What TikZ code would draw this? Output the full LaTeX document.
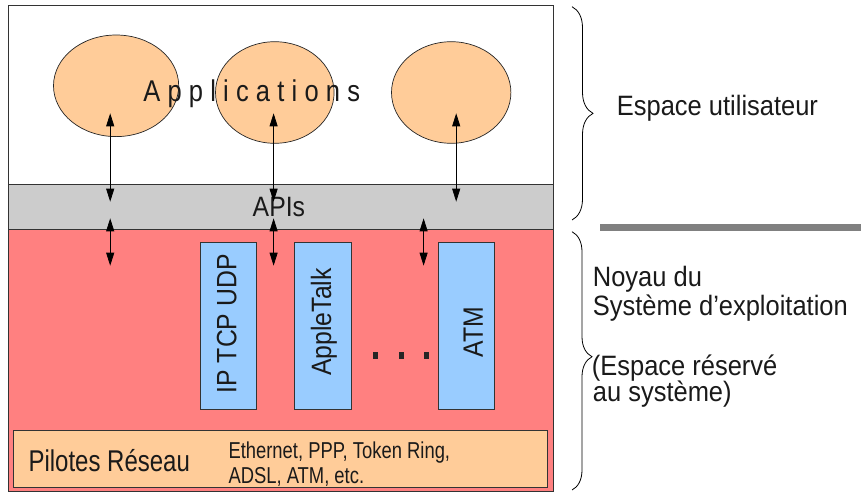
\documentclass[tikz,border=0pt]{standalone}
\usepackage{fontspec}
\setmainfont{Liberation Sans}
\newfontfamily\fA[FakeStretch=0.885]{Liberation Sans}
\newfontfamily\fB[FakeStretch=0.8]{Liberation Sans}
\newfontfamily\fR[FakeStretch=0.91]{Liberation Sans}
\newfontfamily\fP[FakeStretch=0.85]{Liberation Sans}
\usetikzlibrary{shapes.geometric,arrows.meta,decorations.pathreplacing}
\definecolor{peach}{HTML}{FFCC99}
\definecolor{skyb}{HTML}{99CCFF}
\definecolor{kred}{HTML}{FF8080}
\definecolor{apigray}{HTML}{CCCCCC}
\definecolor{sepgray}{HTML}{808080}
\definecolor{ink}{HTML}{1A1A1A}
\begin{document}
\begin{tikzpicture}[x=1pt,y=-1pt,
  box/.style={draw=black!80,line width=0.8pt,anchor=north west,inner sep=0,outer sep=0},
  app/.style={ellipse,draw=black!85,fill=peach,line width=0.7pt,inner sep=0},
  biarrow/.style={{Triangle[length=13pt,width=8pt]}-{Triangle[length=13pt,width=8pt]},line width=0.8pt,draw=black},
  bracestyle/.style={decorate,line width=0.8pt,draw=black},
  lab/.style={anchor=base west,inner sep=0,text=ink,font=\fR\fontsize{28}{28}\selectfont},
  vlab/.style={rotate=90,inner sep=0,text=ink,font=\fA\fontsize{28}{28}\selectfont},
  dotsq/.style={fill=black!85,minimum width=5pt,minimum height=7pt,inner sep=0}
]
\useasboundingbox (0,0) rectangle (861,493);
\fill[white] (0,0) rectangle (861,493);

% main layers
\node[box,fill=white,minimum width=545pt,minimum height=178.6pt] (user) at (8.8,5.7) {};
\node[box,fill=apigray,minimum width=545pt,minimum height=45pt] (apis) at (8.8,184.3) {};
\node[box,fill=kred,minimum width=545pt,minimum height=262pt] (kernel) at (8.8,229.3) {};
\node[box,fill=peach,minimum width=533.9pt,minimum height=56.6pt] (pilotes) at (13.4,430.7) {};

% applications
\node[app,minimum width=125.2pt,minimum height=101.6pt] (e1) at (116.1,85.8) {};
\node[app,minimum width=118.6pt,minimum height=101.6pt] (e2) at (274.8,92.5) {};
\node[app,minimum width=119.4pt,minimum height=101.6pt] (e3) at (451.2,92.5) {};
\node[anchor=base,inner sep=0,text=ink,font=\fP\fontsize{30}{30}\selectfont] (apptext) at (251.7,101.7)
  {A\kern7.2pt p\kern7.2pt p\kern7.2pt l\kern7.2pt i\kern7.2pt c\kern7.2pt a\kern7.2pt t\kern7.2pt i\kern7.2pt o\kern7.2pt n\kern7.2pt s};

% APIs label
\node[anchor=base,inner sep=0,text=ink,font=\fA\fontsize{28}{28}\selectfont] (apilabel) at (278.9,216.7) {APIs};

% protocol boxes
\node[box,fill=skyb,minimum width=56.7pt,minimum height=166.7pt] (b1) at (200,242.3) {};
\node[box,fill=skyb,minimum width=57pt,minimum height=166.7pt] (b2) at (294.7,242.3) {};
\node[box,fill=skyb,minimum width=56pt,minimum height=166.7pt] (b3) at (438.3,242.3) {};
\node[vlab] (t1) at (226.7,323.8) {IP TCP UDP};
\node[vlab] (t2) at (323.8,322) {AppleTalk};
\node[vlab] (t3) at (473.3,332.2) {ATM};

\node[dotsq] (d1) at (375,355) {};
\node[dotsq] (d2) at (401.7,355) {};
\node[dotsq] (d3) at (426.7,355) {};

% drivers
\node[anchor=base west,inner sep=0,text=ink,font=\fB\fontsize{30}{30}\selectfont] (pil) at (28.3,471.7) {Pilotes Réseau};
\node[anchor=base west,inner sep=0,text=ink,font=\fB\fontsize{23}{23}\selectfont] (eth1) at (228.3,458.3) {Ethernet, PPP, Token Ring,};
\node[anchor=base west,inner sep=0,text=ink,font=\fB\fontsize{23}{23}\selectfont] (eth2) at (228.3,483.3) {ADSL, ATM, etc.};

% arrows
\coordinate (u1a) at (110.2,113.3); \coordinate (u1b) at (110.2,201.7);
\coordinate (u2a) at (273.6,113.3); \coordinate (u2b) at (273.6,201.7);
\coordinate (u3a) at (456.2,113.3); \coordinate (u3b) at (456.2,201.7);
\coordinate (l1a) at (110.2,218.3); \coordinate (l1b) at (110.2,265.7);
\coordinate (l2a) at (273.6,218.3); \coordinate (l2b) at (273.6,265.7);
\coordinate (l3a) at (423.6,218.3); \coordinate (l3b) at (423.6,265.7);
\draw[biarrow] (u1a) -- (u1b);
\draw[biarrow] (u2a) -- (u2b);
\draw[biarrow] (u3a) -- (u3b);
\draw[biarrow] (l1a) -- (l1b);
\draw[biarrow] (l2a) -- (l2b);
\draw[biarrow] (l3a) -- (l3b);

% braces and separator
\coordinate (br1a) at (572,6.7); \coordinate (br1b) at (572,220);
\coordinate (br2a) at (572,231.7); \coordinate (br2b) at (572,490);
\draw[bracestyle,decoration={brace,amplitude=21pt}] (br1a) -- (br1b);
\draw[bracestyle,decoration={brace,amplitude=20pt,aspect=0.484}] (br2a) -- (br2b);
\coordinate (sepa) at (600,227.7); \coordinate (sepb) at (861,227.7);
\draw[line width=6.7pt,draw=sepgray] (sepa) -- (sepb);

% right labels
\node[lab] (lu) at (616.7,115) {Espace utilisateur};
\node[lab] (lk1) at (592.7,286.7) {Noyau du};
\node[lab] (lk2) at (592.7,315) {Système d’exploitation};
\node[lab] (lk3) at (591.7,375) {(Espace réservé};
\node[lab] (lk4) at (592.7,401.7) {au système)};
\end{tikzpicture}
\end{document}
